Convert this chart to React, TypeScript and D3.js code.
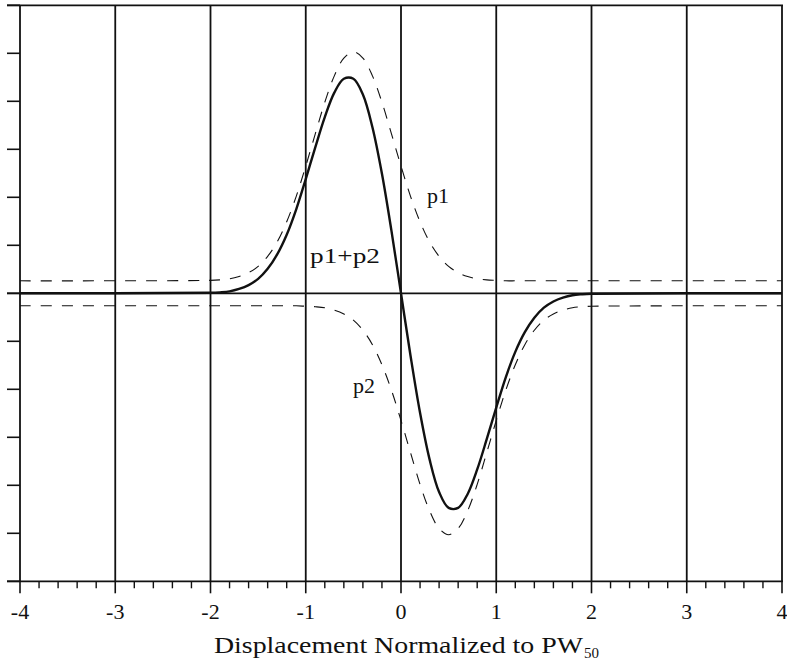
import React from 'react';
import * as d3 from 'd3';

// x positions (normalized displacement) at which the curves were read
const X_VALUES = [
  -4, -2, -1.9, -1.8, -1.7, -1.6, -1.5, -1.4, -1.3, -1.2, -1.1,
  -1, -0.9, -0.8, -0.7, -0.6, -0.5, -0.4, -0.3, -0.2, -0.1,
  0, 0.1, 0.2, 0.3, 0.4, 0.5, 0.6, 0.7, 0.8, 0.9,
  1, 1.1, 1.2, 1.3, 1.4, 1.5, 1.6, 1.7, 1.8, 1.9, 2, 4,
];

// pulse p1 (dashed, offset upward)
const P1_VALUES = [
  0.26, 0.27, 0.28, 0.3, 0.35, 0.43, 0.56, 0.77, 1.07, 1.49, 2.02,
  2.65, 3.32, 3.98, 4.53, 4.9, 5.03, 4.9, 4.53, 3.98, 3.32,
  2.65, 2.02, 1.49, 1.07, 0.77, 0.56, 0.43, 0.35, 0.3, 0.28,
  0.27, 0.26, 0.26, 0.26, 0.26, 0.26, 0.26, 0.26, 0.26, 0.26, 0.26, 0.26,
];

// pulse p2 (dashed, offset downward)
const P2_VALUES = [
  -0.26, -0.26, -0.26, -0.26, -0.26, -0.26, -0.26, -0.26, -0.26, -0.26, -0.26,
  -0.27, -0.28, -0.3, -0.35, -0.43, -0.56, -0.77, -1.07, -1.49, -2.02,
  -2.65, -3.32, -3.98, -4.53, -4.9, -5.03, -4.9, -4.53, -3.98, -3.32,
  -2.65, -2.02, -1.49, -1.07, -0.77, -0.56, -0.43, -0.35, -0.3, -0.28, -0.27, -0.26,
];

// p1 + p2 (solid)
const SUM_VALUES = [
  0, 0.01, 0.02, 0.04, 0.09, 0.17, 0.3, 0.51, 0.81, 1.22, 1.75,
  2.38, 3.04, 3.67, 4.18, 4.47, 4.47, 4.14, 3.46, 2.49, 1.3,
  0, -1.3, -2.49, -3.46, -4.14, -4.47, -4.47, -4.18, -3.67, -3.04,
  -2.38, -1.75, -1.22, -0.81, -0.51, -0.3, -0.17, -0.09, -0.04, -0.02, -0.01, 0,
];

const X_TICKS = [-4, -3, -2, -1, 0, 1, 2, 3, 4];
const X_TICK_LABELS = ['-4', '-3', '-2', '-1', '0', '1', '2', '3', '4'];
const Y_TICKS = [-6, -5, -4, -3, -2, -1, 0, 1, 2, 3, 4, 5, 6];
const X_MINOR_TICKS = d3.range(-40, 41, 2).map((i) => i / 10).filter((v) => Math.abs(v - Math.round(v)) > 1e-6);

const AXIS_TITLE = 'Displacement Normalized to PW';
const AXIS_TITLE_SUB = '50';

export default function App() {
  const W = 787;
  const H = 666;
  const x = d3.scaleLinear().domain([-4, 4]).range([20, 782]);
  const y = d3.scaleLinear().domain([-6, 6]).range([581.3, 5.3]);

  const line = (vals: number[]) =>
    d3
      .line<number>()
      .x((_, i) => x(X_VALUES[i]))
      .y((d) => y(d))
      .curve(d3.curveCatmullRom.alpha(0.5))(vals) || '';

  const ink = '#111';
  const font = '"Liberation Serif", "Times New Roman", serif';
  const left = x(-4);
  const right = x(4);
  const top = y(6);
  const bottom = y(-6);

  return (
    <svg
      width={W}
      height={H}
      style={{ position: 'absolute', left: 0, top: 0, background: '#fff' }}
    >
      <rect x={0} y={0} width={W} height={H} fill="#fff" />
      {/* vertical grid lines */}
      {X_TICKS.map((t) => (
        <line key={'g' + t} x1={x(t)} x2={x(t)} y1={top} y2={bottom} stroke={ink} strokeWidth={1.8} />
      ))}
      {/* frame top and bottom */}
      <line x1={7} x2={right + 1} y1={top} y2={top} stroke={ink} strokeWidth={1.8} />
      <line x1={7} x2={right + 1} y1={bottom} y2={bottom} stroke={ink} strokeWidth={1.8} />
      {/* zero line */}
      <line x1={7} x2={right} y1={y(0)} y2={y(0)} stroke={ink} strokeWidth={1.8} />
      {/* y ticks */}
      {Y_TICKS.map((t) => (
        <line key={'yt' + t} x1={7} x2={left} y1={y(t)} y2={y(t)} stroke={ink} strokeWidth={1.6} />
      ))}
      {/* x major ticks */}
      {X_TICKS.map((t) => (
        <line key={'xt' + t} x1={x(t)} x2={x(t)} y1={bottom} y2={bottom + 12} stroke={ink} strokeWidth={1.6} />
      ))}
      {/* x minor ticks */}
      {X_MINOR_TICKS.map((t) => (
        <line key={'xm' + t} x1={x(t)} x2={x(t)} y1={bottom} y2={bottom + 7} stroke={ink} strokeWidth={1.4} />
      ))}
      {/* x tick labels */}
      {X_TICKS.map((t, i) => (
        <text key={'xl' + t} x={x(t)} y={619} textAnchor="middle" fontFamily={font} fontSize={22} fill={ink}>
          {X_TICK_LABELS[i]}
        </text>
      ))}
      {/* curves */}
      <path d={line(P1_VALUES)} fill="none" stroke={ink} strokeWidth={1.1} strokeDasharray="11 10" />
      <path d={line(P2_VALUES)} fill="none" stroke={ink} strokeWidth={1.1} strokeDasharray="11 10" />
      <path d={line(SUM_VALUES)} fill="none" stroke={ink} strokeWidth={2.4} />
      {/* curve labels */}
      <text x={x(0.273)} y={y(1.88)} fontFamily={font} fontSize={22} fill={ink}>p1</text>
      <text x={x(-0.955)} y={y(0.63)} fontFamily={font} fontSize={22} fill={ink} textLength={70} lengthAdjust="spacingAndGlyphs">p1+p2</text>
      <text x={x(-0.273)} y={y(-2.08)} textAnchor="end" fontFamily={font} fontSize={22} fill={ink}>p2</text>
      {/* axis title */}
      <text x={214} y={653} fontFamily={font} fontSize={23} fill={ink} textLength={369} lengthAdjust="spacingAndGlyphs">
        {AXIS_TITLE}
      </text>
      <text x={584} y={658} fontFamily={font} fontSize={15} fill={ink}>
        {AXIS_TITLE_SUB}
      </text>
    </svg>
  );
}
